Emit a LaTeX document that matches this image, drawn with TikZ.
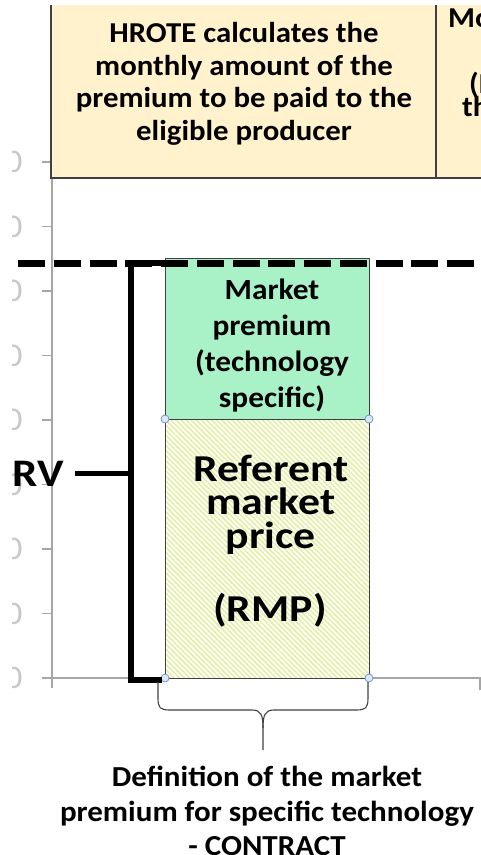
\documentclass[tikz,border=0pt]{standalone}
\usepackage{fontspec}
\setmainfont{Carlito}[FakeStretch=1.07]
\newfontfamily\widefont{Carlito}[FakeStretch=1.15]
\usepackage{tikz}
\usetikzlibrary{patterns.meta}

\definecolor{boxcream}{HTML}{FFF2CC}
\definecolor{premgreen}{HTML}{A9F1C6}
\definecolor{hatchyellow}{HTML}{E3EF9E}
\definecolor{axisgray}{HTML}{A6A6A6}
\definecolor{labelgray}{HTML}{C8C8C8}
\definecolor{handleblue}{HTML}{6E9BCB}
\definecolor{handlefill}{HTML}{DCE8F4}
\definecolor{edgegray}{HTML}{404040}

\tikzset{
  boldtext/.style={align=center, inner sep=0pt, font=\bfseries},
  stackedge/.style={draw=edgegray, line width=0.9pt},
  handle/.style={circle, draw=handleblue, fill=handlefill, line width=0.8pt, minimum size=8pt, inner sep=0pt},
  bracketline/.style={line width=6pt},
}

\begin{document}
\begin{tikzpicture}[x=1pt, y=-1pt]

\useasboundingbox (0,0) rectangle (481,855);

% axes of the chart
\draw[axisgray, line width=1.5pt] (52,140) -- (52,688);
\draw[axisgray, line width=1.5pt] (42,678) -- (480,678) -- (480,690);
\foreach \y in {162,226.5,291,355.5,420,484.5,549,613.5,678}
  \draw[axisgray, line width=1.5pt] (42,\y) -- (52,\y);
\begin{scope}
\clip (12,140) rectangle (40,700);
\foreach \y [count=\i] in {162,226.5,291,355.5,420,484.5,549,613.5,678}
  \node[labelgray, inner sep=0pt, font=\fontsize{33}{33}\selectfont] (tick\i) at (13.5,\y) {0};
\end{scope}

% top boxes
\fill[boxcream] (51,5) rectangle (436,178);
\fill[boxcream] (436,5) rectangle (481,178);
\draw[edgegray, line width=1.6pt] (51,5) |- (436,178) -- (436,5);
\draw[edgegray, line width=1.6pt] (436,178) -- (481,178);
\node[boldtext, font=\bfseries\fontsize{28.8}{32.5}\selectfont] (hrote) at (244,84)
  {HROTE calculates the\\monthly amount of the\\premium to be paid to the\\eligible producer};
\node[boldtext, anchor=west, font=\bfseries\fontsize{28.8}{32.5}\selectfont] (mo) at (448,18) {Mo};
\node[boldtext, anchor=west, font=\bfseries\fontsize{28.8}{32.5}\selectfont] (paren) at (469,85) {(H};
\node[boldtext, anchor=west, font=\bfseries\fontsize{28.8}{32.5}\selectfont] (th) at (462,106) {th};

% stacked bar
\fill[premgreen] (165,258) rectangle (369,419);
\draw[stackedge] (165,258) rectangle (369,419);
\fill[white] (165,419) rectangle (369,678);
\fill[pattern={Lines[angle=-45, distance=3.6pt, line width=1.5pt]}, pattern color=hatchyellow] (165,419) rectangle (369,678);
\draw[stackedge] (165,419) rectangle (369,678);

\node[boldtext, font=\bfseries\fontsize{29.3}{36}\selectfont] (premium) at (272,345.5)
  {Market\\premium\\(technology\\specific)};
\node[boldtext, font=\widefont\bfseries\fontsize{38}{33.5}\selectfont] (rmp) at (271,504.5)
  {Referent\\market\\price};
\node[boldtext, font=\widefont\bfseries\fontsize{38}{38}\selectfont] (rmpabbr) at (270,610) {(RMP)};

\foreach \p [count=\i] in {(165,419),(369,419),(165,678),(369,678)}
  \node[handle] (h\i) at \p {};

% reference value bracket
\coordinate (rvtop) at (131,263);
\coordinate (rvbot) at (131,680);
\coordinate (rvmid) at (131,473);
\draw[bracketline] (162,263) -- (rvtop) -- (rvbot) -- (162,680);
\node[boldtext, font=\widefont\bfseries\fontsize{39}{39}\selectfont] (rv) at (38.5,473.5) {RV};
\draw[line width=5pt] (75,473) -- (rvmid);

% dashed level
\coordinate (dashl) at (18,263);
\coordinate (dashr) at (475,263);
\draw[line width=7pt, dash pattern=on 27pt off 8.75pt] (dashl) -- (dashr);

% brace under the bar
\draw[edgegray, line width=1.1pt] (158,682) -- (158,698) .. controls (158,708) and (160,710) .. (170,710)
  -- (252,710) .. controls (261,710) and (263,715) .. (263,728) -- (263,750);
\draw[edgegray, line width=1.1pt] (368,682) -- (368,698) .. controls (368,708) and (366,710) .. (356,710)
  -- (274,710) .. controls (265,710) and (263,715) .. (263,728);

\node[boldtext, font=\bfseries\fontsize{29}{34.5}\selectfont] (definition) at (267,811)
  {Definition of the market\\premium for specific technology\\- CONTRACT};

\end{tikzpicture}
\end{document}
